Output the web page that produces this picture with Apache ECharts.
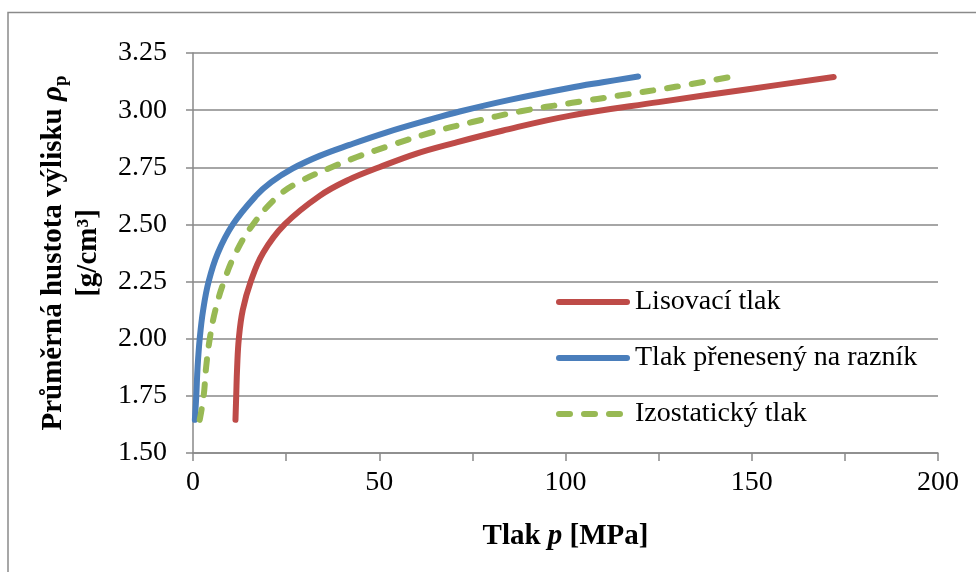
<!DOCTYPE html>
<html>
<head>
<meta charset="utf-8">
<script src="https://cdn.jsdelivr.net/npm/echarts@6/dist/echarts.min.js"></script>
<style>html,body{margin:0;padding:0;background:#fff}#c{width:976px;height:572px}</style>
</head>
<body>
<div id="c"></div>
<script>
// Series names
const seriesNames = ['Lisovací tlak', 'Tlak přenesený na razník', 'Izostatický tlak'];
// [p (MPa), density (g/cm3)]
const lisovaci = [[11.4,1.645],[11.6,1.75],[11.85,1.875],[12.3,2.0],[13.35,2.125],[15.5,2.25],[18.8,2.375],[24.6,2.5],[34,2.625],[42,2.697],[50,2.75],[60,2.81],[70,2.856],[83,2.91],[101,2.975],[125,3.035],[150,3.094],[172,3.145]];
const raznik = [[0.5,1.645],[0.88,1.75],[1.23,1.875],[1.8,2.0],[2.72,2.125],[4.2,2.25],[6.67,2.375],[10.7,2.5],[16.9,2.625],[21,2.685],[26.8,2.745],[34,2.8],[42,2.848],[52,2.903],[63.5,2.958],[71.6,2.994],[85,3.045],[101,3.097],[110,3.122],[119.5,3.147]];
const izostaticky = [[1.8,1.645],[2.86,1.75],[3.52,1.875],[4.5,2.0],[6.0,2.125],[8.3,2.25],[11.46,2.375],[16.1,2.5],[22.9,2.625],[29,2.69],[37.2,2.75],[44,2.795],[52,2.84],[63.5,2.9],[75,2.948],[88,2.995],[101.8,3.032],[115.3,3.066],[129.5,3.102],[144.1,3.145]];
// Axis ranges
const xMin = 0, xMax = 200, xStep = 25, xLabelStep = 50;
const yMin = 1.5, yMax = 3.25, yStep = 0.25;

const FONT = 'Liberation Serif';
const GRID = '#898989';
const chart = echarts.init(document.getElementById('c'));
chart.setOption({
  backgroundColor: '#fff',
  animation: false,
  textStyle: { fontFamily: FONT, color: '#000' },
  graphic: [{
    type: 'rect', silent: true,
    shape: { x: 8, y: 12.5, width: 1200, height: 800 },
    style: { fill: 'none', stroke: '#8a8a8a', lineWidth: 1.5 }
  }],
  grid: { left: 193, right: 38, top: 53, bottom: 119 },
  legend: {
    orient: 'vertical', left: 551, top: 281,
    itemWidth: 68, itemHeight: 14, itemGap: 24,
    itemStyle: { opacity: 0 },
    lineStyle: { width: 6, cap: 'round' },
    textStyle: { fontFamily: FONT, fontSize: 28, lineHeight: 32, color: '#000', padding: [0, 0, 0, 3] },
    data: seriesNames
  },
  xAxis: {
    type: 'value', min: xMin, max: xMax, interval: xStep,
    axisLine: { show: true, lineStyle: { color: GRID, width: 1.5 } },
    axisTick: { show: true, length: 8, lineStyle: { color: GRID, width: 1.5 } },
    splitLine: { show: false },
    axisLabel: { fontFamily: FONT, fontSize: 28, color: '#000', margin: 16,
      formatter: v => (Math.round(v) % xLabelStep === 0 ? String(Math.round(v)) : '') },
    name: '{b|Tlak }{bi|p}{b| [MPa]}',
    nameLocation: 'middle', nameGap: 84,
    nameTextStyle: { verticalAlign: 'middle',
      rich: {
        b: { fontFamily: FONT, fontSize: 29, fontWeight: 'bold', color: '#000' },
        bi: { fontFamily: FONT, fontSize: 29, fontWeight: 'bold', fontStyle: 'italic', color: '#000' }
      } }
  },
  yAxis: {
    type: 'value', min: yMin, max: yMax, interval: yStep,
    axisLine: { show: true, lineStyle: { color: GRID, width: 1.5 } },
    axisTick: { show: true, length: 7, lineStyle: { color: GRID, width: 1.5 } },
    splitLine: { show: true, lineStyle: { color: GRID, width: 1.5 } },
    axisLabel: { fontFamily: FONT, fontSize: 28, color: '#000', margin: 26,
      formatter: v => v.toFixed(2) },
    name: '{b|Průměrná hustota výlisku }{i|ρ}{s|p}\n{b|[g/cm³]}',
    nameLocation: 'middle', nameRotate: 90, nameGap: 122,
    nameTextStyle: { verticalAlign: 'middle', align: 'center',
      rich: {
        b: { fontFamily: FONT, fontSize: 29, fontWeight: 'bold', color: '#000', lineHeight: 35 },
        i: { fontFamily: FONT, fontSize: 29, fontWeight: 'bold', fontStyle: 'italic', color: '#000', lineHeight: 35 },
        s: { fontFamily: FONT, fontSize: 19, fontWeight: 'bold', color: '#000', lineHeight: 35, verticalAlign: 'bottom' }
      } }
  },
  series: [
    { name: seriesNames[0], type: 'line', data: lisovaci, showSymbol: false, symbol: 'none', smooth: 0.4,
      lineStyle: { color: '#BE4B48', width: 6, cap: 'round', join: 'round' }, itemStyle: { color: '#BE4B48' } },
    { name: seriesNames[1], type: 'line', data: raznik, showSymbol: false, symbol: 'none', smooth: 0.4,
      lineStyle: { color: '#4A7EBB', width: 6, cap: 'round', join: 'round' }, itemStyle: { color: '#4A7EBB' } },
    { name: seriesNames[2], type: 'line', data: izostaticky, showSymbol: false, symbol: 'none', smooth: 0.4,
      lineStyle: { color: '#98B954', width: 6, type: [11, 14], cap: 'round', join: 'round' }, itemStyle: { color: '#98B954' } }
  ]
});
</script>
</body>
</html>
